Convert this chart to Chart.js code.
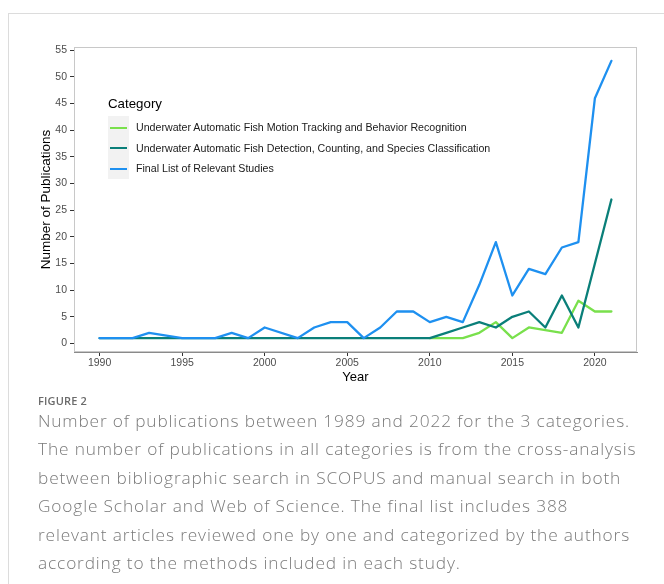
<!DOCTYPE html>
<html>
<head>
<meta charset="utf-8">
<script src="https://cdn.jsdelivr.net/npm/chart.js@4"></script>
<style>
  body { margin: 0; background: #fff; width: 664px; height: 584px; overflow: hidden; position: relative; font-family: "Liberation Sans", Arial, sans-serif; }
  #frameTop { position: absolute; left: 8px; top: 13px; width: 656px; height: 1px; background: #dcdcdc; }
  #frameLeft { position: absolute; left: 8px; top: 13px; width: 1px; height: 571px; background: #dcdcdc; }
  #chart { position: absolute; left: 0; top: 0; }
  #legend { position: absolute; left: 108px; top: 94px; }
  #legend .ttl { font-size: 13.3px; color: #000; height: 22px; line-height: 20px; }
  #legend .keys { position: absolute; left: 0; top: 22px; width: 21px; height: 63px; background: #f2f2f2; }
  #legend .item { position: absolute; left: 0; height: 21px; width: 420px; }
  #legend .item i { position: absolute; left: 2px; top: 9.5px; width: 17px; height: 2.2px; }
  #legend .item span { position: absolute; left: 28px; top: 0; line-height: 21px; font-size: 10.65px; color: #1a1a1a; white-space: nowrap; }
  #figlabel { position: absolute; left: 38px; top: 393px; font-family: "Open Sans", sans-serif; font-size: 11px; font-weight: 600; color: #6b6b6b; letter-spacing: 0.15px; }
  #caption { position: absolute; left: 38px; top: 406.5px; font-family: "Open Sans", sans-serif; font-weight: 300; font-size: 17.3px; line-height: 28.5px; letter-spacing: 0.85px; color: #7a7a7a; white-space: nowrap; }
</style>
</head>
<body>
<div id="frameTop"></div>
<div id="frameLeft"></div>
<canvas id="chart" width="664" height="400"></canvas>
<div id="legend"></div>
<div id="figlabel">FIGURE 2</div>
<div id="caption">Number of publications between 1989 and 2022 for the 3 categories.<br>The number of publications in all categories is from the cross-analysis<br>between bibliographic search in SCOPUS and manual search in both<br>Google Scholar and Web of Science. The final list includes 388<br>relevant articles reviewed one by one and categorized by the authors<br>according to the methods included in each study.</div>
<script>
// years on the x axis
const years = [1990, 1991, 1992, 1993, 1994, 1995, 1996, 1997, 1998, 1999,
               2000, 2001, 2002, 2003, 2004, 2005, 2006, 2007, 2008, 2009,
               2010, 2011, 2012, 2013, 2014, 2015, 2016, 2017, 2018, 2019,
               2020, 2021];

// number of publications per year (null = no point that year)
const motionTracking = [null, null, null, null, null, null, null, null, null, null,
                        null, null, null, null, null, null, null, null, null, null,
                        1, 1, 1, 2, 4, 1, 3, null, 2, 8,
                        6, 6];
const detectionCounting = [1, 1, 1, 1, 1, 1, 1, 1, 1, 1,
                           1, 1, 1, 1, 1, 1, 1, 1, 1, 1,
                           1, 2, 3, 4, 3, 5, 6, 3, 9, 3,
                           15, 27];
const finalList = [1, 1, 1, 2, null, 1, 1, 1, 2, 1,
                   3, null, 1, 3, 4, 4, 1, 3, 6, 6,
                   4, 5, 4, 11, 19, 9, 14, 13, 18, 19,
                   46, 53];

const seriesNames = [
    'Underwater Automatic Fish Motion Tracking and Behavior Recognition',
    'Underwater Automatic Fish Detection, Counting, and Species Classification',
    'Final List of Relevant Studies'
];
const seriesColors = ['#79e04c', '#0a7f79', '#1e90f0'];
const yTicks = [0, 5, 10, 15, 20, 25, 30, 35, 40, 45, 50, 55];

function toPoints(values) {
    return years.map((yr, i) => ({ x: yr, y: values[i] }));
}

// light grey panel border around the plotting area
const panelBorder = {
    id: 'panelBorder',
    beforeDatasetsDraw(chart) {
        const a = chart.chartArea;
        const ctx = chart.ctx;
        ctx.save();
        ctx.strokeStyle = '#c8c8c8';
        ctx.lineWidth = 1;
        ctx.strokeRect(a.left + 0.5, a.top + 0.5, a.right - a.left - 1, a.bottom - a.top - 1);
        ctx.restore();
    }
};

const allSeries = [motionTracking, detectionCounting, finalList];
const datasets = allSeries.map((vals, i) => ({
    label: seriesNames[i],
    data: toPoints(vals),
    borderColor: seriesColors[i],
    backgroundColor: seriesColors[i],
    borderWidth: 2.3,
    pointRadius: 0,
    tension: 0,
    spanGaps: true,
    borderJoinStyle: 'round',
    borderCapStyle: 'round',
    order: 2 - i
}));

const tickFont = { family: '"Liberation Sans", Arial, sans-serif', size: 10.5 };

new Chart(document.getElementById('chart').getContext('2d'), {
    type: 'line',
    data: { datasets: datasets },
    options: {
        responsive: false,
        animation: false,
        layout: { padding: { left: 0, top: 47, right: 27, bottom: 0 } },
        plugins: { legend: { display: false }, tooltip: { enabled: false } },
        scales: {
            x: {
                type: 'linear',
                min: 1988.45,
                max: 2022.55,
                ticks: { stepSize: 5, includeBounds: false, color: '#4d4d4d', font: tickFont, padding: 1,
                         callback: v => String(v) },
                grid: { drawOnChartArea: false, drawTicks: true, tickLength: 4, color: '#333', tickColor: '#333' },
                border: { display: true, color: '#8a8a8a', width: 1 },
                title: { display: true, text: 'Year', color: '#000',
                         font: { family: '"Liberation Sans", Arial, sans-serif', size: 13 },
                         padding: { top: 0, bottom: 15.2 } },
                afterFit: s => { s.height = 48; }
            },
            y: {
                type: 'linear',
                min: -1.6,
                max: 55.6,
                afterBuildTicks: s => { s.ticks = yTicks.map(v => ({ value: v })); },
                ticks: { color: '#4d4d4d', font: tickFont, padding: 3 },
                grid: { drawOnChartArea: false, drawTicks: true, tickLength: 4, color: '#333', tickColor: '#333' },
                border: { display: true, color: '#8a8a8a', width: 1 },
                title: { display: true, text: 'Number of Publications', color: '#000',
                         font: { family: '"Liberation Sans", Arial, sans-serif', size: 13.5 },
                         padding: { top: 37.9, bottom: 0 } },
                afterFit: s => { s.width = 74; }
            }
        }
    },
    plugins: [panelBorder]
});

// legend (key box + labels) built from the same names/colours
const legend = document.getElementById('legend');
let html = '<div class="ttl">Category</div><div class="keys"></div>';
seriesNames.forEach((name, i) => {
    html += '<div class="item" style="top:' + (23 + i * 20.7) + 'px"><i style="background:' +
            seriesColors[i] + '"></i><span>' + name + '</span></div>';
});
legend.innerHTML = html;
</script>
</body>
</html>
